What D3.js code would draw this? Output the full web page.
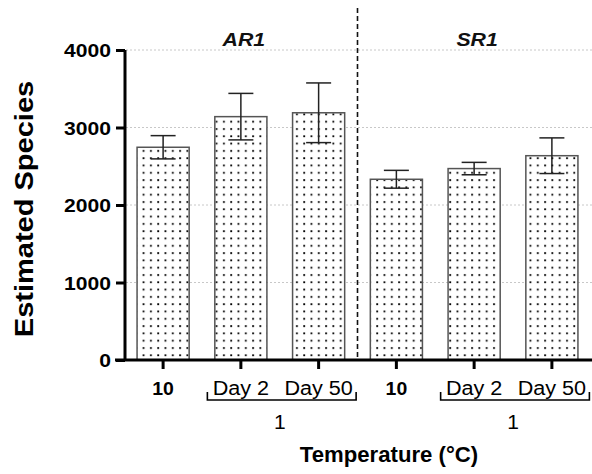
<!DOCTYPE html>
<html>
<head>
<meta charset="utf-8">
<script src="https://cdn.jsdelivr.net/npm/d3@7"></script>
<style>
  html, body { margin: 0; padding: 0; background: #fff; }
  svg { display: block; font-family: "Liberation Sans", Arial, sans-serif; }
</style>
</head>
<body>
<svg id="chart" width="592" height="474"></svg>
<script>
// Estimated species richness per treatment, two reactors
const categories = ["AR1-10", "AR1-Day2", "AR1-Day50", "SR1-10", "SR1-Day2", "SR1-Day50"];
const tickLabels = ["10", "Day 2", "Day 50", "10", "Day 2", "Day 50"];
const tickBold = [true, false, false, true, false, false];
const means = [2745, 3140, 3190, 2332, 2470, 2636];
const errors = [150, 300, 385, 115, 80, 230];
const panels = ["AR1", "SR1"];
const yTicks = [0, 1000, 2000, 3000, 4000];

const FONT = "Liberation Sans, Arial, sans-serif";
const svg = d3.select("#chart");

// widen glyphs along the text direction by a factor
function widen(sel, factor) {
  sel.each(function () {
    const len = this.getComputedTextLength();
    d3.select(this).attr("textLength", len * factor).attr("lengthAdjust", "spacingAndGlyphs");
  });
}

const x = d3.scaleBand()
  .domain(categories)
  .range([124, 591])
  .paddingInner(0.33)
  .paddingOuter(0.168);

const y = d3.scaleLinear().domain([0, 4000]).range([360, 50]);

// dotted fill
const defs = svg.append("defs");
const pat = defs.append("pattern")
  .attr("id", "dots")
  .attr("patternUnits", "userSpaceOnUse")
  .attr("width", 7.3).attr("height", 7.3)
  .attr("x", 2).attr("y", 2);
pat.append("rect").attr("width", 7.3).attr("height", 7.3).attr("fill", "#fff");
pat.append("rect").attr("x", 2).attr("y", 2).attr("width", 1.8).attr("height", 1.8).attr("fill", "#000");

// horizontal gridlines
svg.append("g")
  .selectAll("line")
  .data(yTicks.filter(d => d > 0))
  .join("line")
  .attr("x1", 126).attr("x2", 592)
  .attr("y1", d => y(d)).attr("y2", d => y(d))
  .attr("stroke", "#c8c8c8")
  .attr("stroke-width", 1)
  .attr("stroke-dasharray", "2,2");

// bars
svg.append("g")
  .selectAll("rect")
  .data(categories)
  .join("rect")
  .attr("x", d => x(d))
  .attr("y", (d, i) => y(means[i]))
  .attr("width", x.bandwidth())
  .attr("height", (d, i) => y(0) - y(means[i]))
  .attr("fill", "url(#dots)")
  .attr("stroke", "#555")
  .attr("stroke-width", 1.5);

// error bars
const eb = svg.append("g").attr("stroke", "#222").attr("stroke-width", 1.5);
categories.forEach((c, i) => {
  const cx = x(c) + x.bandwidth() / 2;
  const hi = y(means[i] + errors[i]);
  const lo = y(means[i] - errors[i]);
  eb.append("line").attr("x1", cx).attr("x2", cx).attr("y1", hi).attr("y2", lo);
  eb.append("line").attr("x1", cx - 12.5).attr("x2", cx + 12.5).attr("y1", hi).attr("y2", hi);
  eb.append("line").attr("x1", cx - 12.5).attr("x2", cx + 12.5).attr("y1", lo).attr("y2", lo);
});

// separator between reactors
const sepX = (x(categories[2]) + x.bandwidth() + x(categories[3])) / 2;
svg.append("line")
  .attr("x1", sepX).attr("x2", sepX)
  .attr("y1", 8).attr("y2", 360)
  .attr("stroke", "#111")
  .attr("stroke-width", 1.6)
  .attr("stroke-dasharray", "5,3");

// panel labels
panels.forEach((p, k) => {
  const c = x(categories[k * 3 + 1]) + x.bandwidth() / 2;
  svg.append("text")
    .attr("x", c + 3).attr("y", 46)
    .attr("text-anchor", "middle")
    .attr("font-size", 19)
    .attr("font-weight", "bold")
    .attr("font-style", "italic")
    .attr("fill", "#111")
    .text(p)
    .call(widen, 1.12);
});

// y axis
const yAxis = svg.append("g").attr("transform", "translate(125,0)")
  .call(d3.axisLeft(y).tickValues(yTicks).tickSize(9).tickFormat(d3.format("d")));
yAxis.select(".domain").attr("stroke", "#000").attr("stroke-width", 3).attr("d", "M0,360V50");
yAxis.selectAll(".tick line").attr("stroke", "#000").attr("stroke-width", 3);
yAxis.selectAll(".tick text")
  .attr("x", -14)
  .attr("dy", "0.36em")
  .attr("font-size", 18.5)
  .attr("font-weight", "bold")
  .attr("font-family", FONT)
  .attr("fill", "#000")
  .call(widen, 1.14);

// x axis
const xAxis = svg.append("g").attr("transform", "translate(0,360)")
  .call(d3.axisBottom(x).tickSize(9).tickFormat((d, i) => tickLabels[i]));
xAxis.select(".domain").attr("stroke", "#000").attr("stroke-width", 3).attr("d", "M115,0H592");
xAxis.selectAll(".tick line").attr("stroke", "#000").attr("stroke-width", 3);
xAxis.selectAll(".tick text")
  .attr("y", 34.5)
  .attr("dy", 0)
  .attr("font-size", (d, i) => tickBold[i] ? 18 : 20)
  .attr("font-weight", (d, i) => tickBold[i] ? "bold" : "normal")
  .attr("font-family", FONT)
  .attr("fill", "#000")
  .call(widen, 1.08);

// brackets grouping the 1 °C treatments
const br = svg.append("g").attr("stroke", "#000").attr("stroke-width", 1.6).attr("fill", "none");
[[1, 2], [4, 5]].forEach(([a, b]) => {
  const xa = x(categories[a]) + x.bandwidth() / 2 - 33.5;
  const xb = x(categories[b]) + x.bandwidth() / 2 + 37.5;
  br.append("path").attr("d", `M${xa},392V400H${xb}V392`);
  svg.append("text")
    .attr("x", (x(categories[a]) + x(categories[b])) / 2 + x.bandwidth() / 2 + 0)
    .attr("y", 429)
    .attr("text-anchor", "middle")
    .attr("font-size", 21)
    .attr("fill", "#000")
    .text("1");
});

// axis titles
svg.append("text")
  .attr("x", 389).attr("y", 462)
  .attr("text-anchor", "middle")
  .attr("font-size", 21.5)
  .attr("font-weight", "bold")
  .attr("fill", "#000")
  .text("Temperature (°C)")
  .call(widen, 1.03);

svg.append("text")
  .attr("transform", "translate(33,209) rotate(-90)")
  .attr("text-anchor", "middle")
  .attr("font-size", 25)
  .attr("font-weight", "bold")
  .attr("fill", "#000")
  .text("Estimated Species")
  .call(widen, 1.16);
</script>
</body>
</html>
